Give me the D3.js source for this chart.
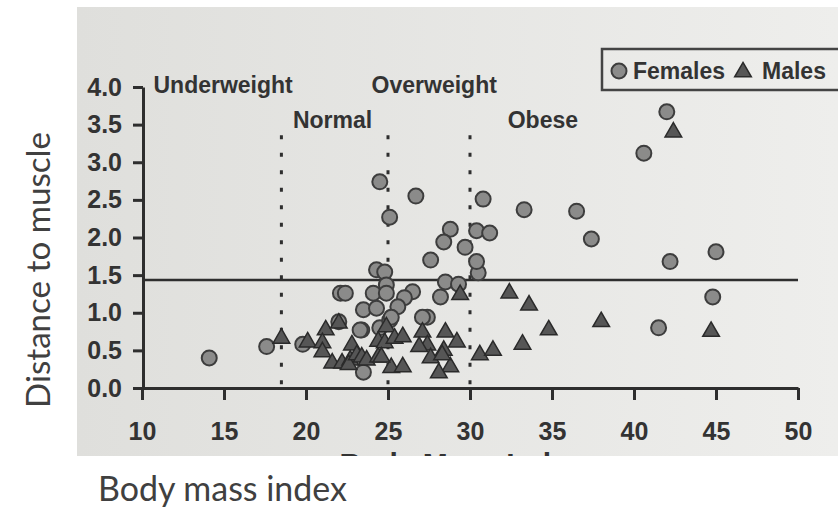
<!DOCTYPE html>
<html>
<head>
<meta charset="utf-8">
<script src="https://cdn.jsdelivr.net/npm/d3@7"></script>
<style>
  body { margin: 0; background: #fff; }
  svg { display: block; }
</style>
</head>
<body>
<div id="chart"></div>
<script>
// values
const femaleBmi  = [14.1, 17.6, 19.8, 22.1, 22.4, 23.5, 24.3, 24.1, 24.3, 24.8, 24.9, 24.9, 23.4, 24.5, 23.5, 25.1,
                    26.5, 26.0, 25.6, 25.2, 27.4, 27.1, 28.2, 28.5, 29.3, 30.5, 30.4, 27.6, 24.5, 26.7, 25.1, 30.8,
                    28.8, 28.4, 30.4, 31.2, 29.7, 33.3, 36.5, 37.4, 42.2, 45.0, 44.8, 41.5, 42.0, 40.6, 22.0, 23.3];
const femaleDist = [0.40, 0.55, 0.58, 1.26, 1.26, 1.04, 1.06, 1.26, 1.57, 1.54, 1.37, 1.26, 0.77, 0.80, 0.21, 0.90,
                    1.28, 1.20, 1.08, 0.94, 0.94, 0.94, 1.21, 1.41, 1.38, 1.53, 1.68, 1.70, 2.74, 2.55, 2.27, 2.51,
                    2.11, 1.94, 2.09, 2.06, 1.87, 2.37, 2.35, 1.98, 1.68, 1.81, 1.21, 0.80, 3.67, 3.12, 0.88, 0.77];
const maleBmi  = [18.5, 20.1, 21.2, 21.0, 22.0, 21.0, 21.6, 22.2, 22.7, 22.8, 22.6, 23.1, 23.4, 23.7, 24.4, 24.4,
                  24.9, 24.8, 25.4, 25.2, 25.9, 25.9, 24.6, 27.1, 27.4, 26.9, 27.6, 28.4, 28.8, 28.1, 28.5, 29.2,
                  29.4, 30.6, 31.4, 32.4, 33.6, 38.0, 34.8, 44.7, 33.2, 42.4, 28.3];
const maleDist = [0.66, 0.61, 0.77, 0.60, 0.86, 0.48, 0.33, 0.33, 0.37, 0.57, 0.31, 0.44, 0.41, 0.37, 0.41, 0.62,
                  0.81, 0.60, 0.66, 0.27, 0.68, 0.28, 0.41, 0.74, 0.57, 0.55, 0.40, 0.50, 0.28, 0.20, 0.74, 0.61,
                  1.24, 0.44, 0.50, 1.26, 1.10, 0.88, 0.77, 0.75, 0.58, 3.40, 0.44];

const xTicks = [10, 15, 20, 25, 30, 35, 40, 45, 50];
const yTicks = [0, 0.5, 1, 1.5, 2, 2.5, 3, 3.5, 4];
const cutoffs = [18.5, 25, 30];
const threshold = 1.435;
const classNames = ['Underweight', 'Normal', 'Overweight', 'Obese'];
const classBmi   = [10.7, 19.2, 24.0, 32.3];
const classDist  = [3.92, 3.455, 3.92, 3.455];

const W = 838, H = 509;
const boldFont = '"Liberation Sans", Arial, sans-serif';
const ink = '#2e2e2e';

const svg = d3.select('#chart').append('svg')
  .attr('width', W).attr('height', H);

const grad = svg.append('defs').append('linearGradient')
  .attr('id', 'paper').attr('x1', 0).attr('x2', 1).attr('y1', 0).attr('y2', 0);
grad.append('stop').attr('offset', 0).attr('stop-color', '#dfdfdc');
grad.append('stop').attr('offset', 1).attr('stop-color', '#eeeeec');
svg.select('defs').append('clipPath').attr('id', 'photo')
  .append('rect').attr('x', 77).attr('y', 7).attr('width', W - 77).attr('height', 449);

// the photographed chart
svg.append('rect')
  .attr('x', 77).attr('y', 7).attr('width', W - 77).attr('height', 449)
  .attr('fill', 'url(#paper)');

const x = d3.scaleLinear().domain([10, 50]).range([142, 798]);
const y = d3.scaleLinear().domain([0, 4]).range([388, 87]);

const xAxis = svg.append('g')
  .attr('transform', 'translate(0,' + y(0) + ')')
  .call(d3.axisBottom(x).tickValues(xTicks).tickSize(12).tickSizeOuter(0).tickPadding(22)
    .tickFormat(d3.format('d')));
const yAxis = svg.append('g')
  .attr('transform', 'translate(' + (x(10) + 1) + ',0)')
  .call(d3.axisLeft(y).tickValues(yTicks).tickSize(10).tickSizeOuter(0).tickPadding(11)
    .tickFormat(d3.format('.1f')));

[xAxis, yAxis].forEach(g => {
  g.select('.domain').attr('stroke', ink).attr('stroke-width', 3);
  g.selectAll('.tick line').attr('stroke', ink).attr('stroke-width', 3);
  g.selectAll('.tick text')
    .attr('fill', '#333')
    .style('font-family', boldFont)
    .style('font-weight', 'bold')
    .style('font-size', '25px');
});

// BMI class cut-offs
svg.append('g').selectAll('line')
  .data(cutoffs)
  .enter()
  .append('line')
    .attr('x1', d => x(d)).attr('x2', d => x(d))
    .attr('y1', y(3.36)).attr('y2', y(0))
    .attr('stroke', ink).attr('stroke-width', 3)
    .attr('stroke-dasharray', '4,13.5');

svg.append('line')
  .attr('x1', x(10)).attr('x2', x(50))
  .attr('y1', y(threshold)).attr('y2', y(threshold))
  .attr('stroke', ink).attr('stroke-width', 2.5);

svg.append('g').selectAll('text')
  .data(classNames)
  .enter()
  .append('text')
    .attr('x', (d, i) => x(classBmi[i]))
    .attr('y', (d, i) => y(classDist[i]))
    .attr('fill', '#333')
    .style('font-family', boldFont)
    .style('font-weight', 'bold')
    .style('font-size', '23px')
    .text(d => d);

// points
const circle = d3.symbol().type(d3.symbolCircle).size(Math.PI * 7.5 * 7.5);
const tri = d3.symbol().type(d3.symbolTriangle).size(120);

svg.append('g').selectAll('path')
  .data(femaleBmi)
  .enter()
  .append('path')
    .attr('d', circle)
    .attr('transform', (d, i) => 'translate(' + x(d) + ',' + y(femaleDist[i]) + ')')
    .attr('fill', '#8b8b8a').attr('stroke', '#3d3d3d').attr('stroke-width', 2);

svg.append('g').selectAll('path')
  .data(maleBmi)
  .enter()
  .append('path')
    .attr('d', tri)
    .attr('transform', (d, i) => 'translate(' + x(d) + ',' + y(maleDist[i]) + ')')
    .attr('fill', '#565656').attr('stroke', '#2a2a2a').attr('stroke-width', 1.5);

// legend
const legend = svg.append('g');
legend.append('rect')
  .attr('x', 602).attr('y', 49).attr('width', 250).attr('height', 41)
  .attr('fill', 'none').attr('stroke', '#444').attr('stroke-width', 2.5);
legend.append('path').attr('d', circle)
  .attr('transform', 'translate(619,71)')
  .attr('fill', '#8b8b8a').attr('stroke', '#3d3d3d').attr('stroke-width', 2);
legend.append('path').attr('d', tri)
  .attr('transform', 'translate(743,72)')
  .attr('fill', '#565656').attr('stroke', '#2a2a2a').attr('stroke-width', 1.5);
legend.selectAll('text')
  .data(['Females', 'Males'])
  .enter()
  .append('text')
    .attr('x', (d, i) => i ? 762 : 633)
    .attr('y', 79)
    .attr('fill', '#333')
    .style('font-family', boldFont)
    .style('font-weight', 'bold')
    .style('font-size', '23px')
    .text(d => d);

// the photo's own axis title, cut off by the frame
svg.append('text')
  .attr('clip-path', 'url(#photo)')
  .attr('x', 462).attr('y', 474)
  .attr('text-anchor', 'middle')
  .attr('fill', '#333')
  .style('font-family', boldFont)
  .style('font-weight', 'bold')
  .style('font-size', '30px')
  .text('Body Mass Index');

// outer labels
function fitText(sel, width) {
  const w = sel.node().getComputedTextLength();
  const fs = parseFloat(sel.style('font-size'));
  sel.style('font-size', (fs * width / w) + 'px');
}
const outerFont = 'Lato, "Open Sans", sans-serif';
const yTitle = svg.append('text')
  .attr('transform', 'translate(50,270) rotate(-90)')
  .attr('text-anchor', 'middle')
  .attr('fill', '#404040')
  .style('font-family', outerFont)
  .style('font-size', '36px')
  .text('Distance to muscle');
fitText(yTitle, 276);
const xTitle = svg.append('text')
  .attr('x', 98).attr('y', 501)
  .attr('fill', '#404040')
  .style('font-family', outerFont)
  .style('font-size', '36px')
  .text('Body mass index');
fitText(xTitle, 249);
</script>
</body>
</html>
